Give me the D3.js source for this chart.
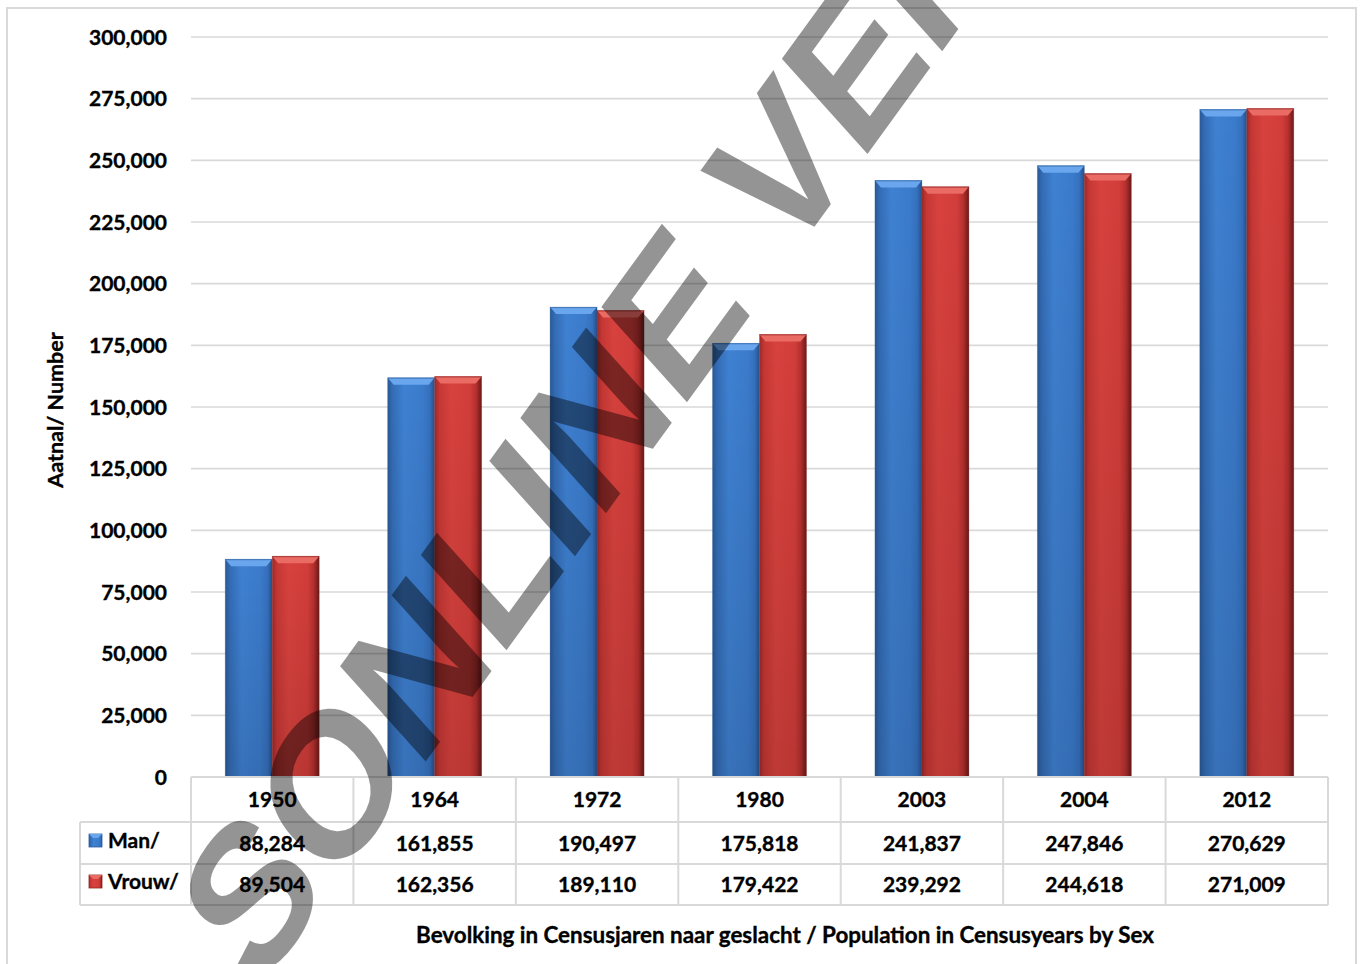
<!DOCTYPE html>
<html>
<head>
<meta charset="utf-8">
<script src="https://cdn.jsdelivr.net/npm/d3@7"></script>
<style>
  html, body { margin: 0; padding: 0; background: #ffffff; }
  svg { display: block; }
  text.lbl { font-family: Lato, "Open Sans", "Noto Sans", sans-serif; font-weight: 700; fill: #000; stroke: #000; stroke-width: 0.35px; }
</style>
</head>
<body>
<svg id="chart" width="1363" height="964"></svg>
<script>
// ---- data ----
const years = ["1950", "1964", "1972", "1980", "2003", "2004", "2012"];
const seriesNames = ["Man/", "Vrouw/"];
const manValues = [88284, 161855, 190497, 175818, 241837, 247846, 270629];
const vrouwValues = [89504, 162356, 189110, 179422, 239292, 244618, 271009];
const yTicks = [0, 25000, 50000, 75000, 100000, 125000, 150000, 175000, 200000, 225000, 250000, 275000, 300000];
const yAxisTitle = "Aatnal/ Number";
const xAxisTitle = "Bevolking in Censusjaren naar geslacht / Population in Censusyears by Sex";
const watermarkText = "SONLINE VERSION";

const series = [
  { name: seriesNames[0], key: "man", values: manValues },
  { name: seriesNames[1], key: "vrouw", values: vrouwValues }
];

const svg = d3.select("#chart");
const plot = { left: 191, right: 1328, top: 37, bottom: 777 };
const table = { left: 80, headerBottom: 822, row1Bottom: 864, row2Bottom: 905 };

const x = d3.scaleBand().domain(years).range([plot.left, plot.right]).padding(0);
const bw = x.bandwidth();
const xs = d3.scaleBand().domain(series.map(s => s.key)).range([bw / 2 - 47, bw / 2 + 47]).padding(0);
const y = d3.scaleLinear().domain([0, 300000]).range([plot.bottom, plot.top]);
const fmt = d3.format(",");

// ---- defs: gradients ----
const defs = svg.append("defs");
function hGrad(id, stops) {
  const g = defs.append("linearGradient").attr("id", id).attr("x1", "0%").attr("x2", "100%").attr("y1", "0%").attr("y2", "0%");
  stops.forEach(([o, c]) => g.append("stop").attr("offset", o).attr("stop-color", c));
}
hGrad("g-man", [["0%", "#2a5896"], ["10%", "#336cb5"], ["35%", "#3f81d2"], ["75%", "#3b7bcb"], ["90%", "#3470bd"], ["100%", "#264f88"]]);
hGrad("g-vrouw", [["0%", "#9c2927"], ["10%", "#c53734"], ["35%", "#d8423e"], ["75%", "#d23d3a"], ["88%", "#b5302e"], ["100%", "#6a1918"]]);
const vshade = defs.append("linearGradient").attr("id", "g-vshade").attr("x1", "0").attr("x2", "0").attr("y1", "0").attr("y2", "1");
vshade.append("stop").attr("offset", "0%").attr("stop-color", "#000").attr("stop-opacity", 0);
vshade.append("stop").attr("offset", "100%").attr("stop-color", "#000").attr("stop-opacity", 0.12);
const topCol = { man: "#6aa6ee", vrouw: "#ea6a64" };
const topSide = { man: "#2f629f", vrouw: "#8e2624" };

// ---- outer border ----
svg.append("rect").attr("x", 7).attr("y", 8).attr("width", 1349).attr("height", 980)
  .attr("fill", "none").attr("stroke", "#d9d9d9").attr("stroke-width", 2);

// ---- gridlines ----
svg.append("g").selectAll("line").data(yTicks.filter(t => t > 0)).join("line")
  .attr("x1", plot.left).attr("x2", plot.right)
  .attr("y1", d => y(d)).attr("y2", d => y(d))
  .attr("stroke", "#d9d9d9").attr("stroke-width", 1.6);

// ---- y tick labels ----
svg.append("g").selectAll("text").data(yTicks).join("text").attr("class", "lbl")
  .attr("x", 167).attr("y", d => y(d) + 7.5)
  .attr("text-anchor", "end").style("font-size", "21px")
  .text(d => fmt(d));

// ---- y axis title ----
svg.append("text").attr("class", "lbl")
  .attr("transform", "translate(63,410) rotate(-90)")
  .attr("text-anchor", "middle").style("font-size", "21.5px")
  .text(yAxisTitle);

// ---- bars ----
const groups = svg.append("g").selectAll("g").data(years).join("g")
  .attr("transform", d => `translate(${x(d)},0)`);

series.forEach(s => {
  groups.each(function (yr, i) {
    const g = d3.select(this);
    const v = s.values[i];
    const x0 = xs(s.key), w = xs.bandwidth();
    const y0 = y(v), h = y(0) - y(v);
    g.append("rect").attr("x", x0).attr("y", y0).attr("width", w).attr("height", h)
      .attr("fill", `url(#g-${s.key})`);
    g.append("rect").attr("x", x0).attr("y", y0).attr("width", w).attr("height", h)
      .attr("fill", "url(#g-vshade)");
    const b = 6;
    g.append("polygon")
      .attr("points", [[x0, y0], [x0 + w, y0], [x0 + w - b, y0 + b + 1], [x0 + b, y0 + b + 1]].map(p => p.join(",")).join(" "))
      .attr("fill", topCol[s.key]);
    g.append("line").attr("x1", x0).attr("x2", x0 + w).attr("y1", y0 + 0.5).attr("y2", y0 + 0.5)
      .attr("stroke", topSide[s.key]).attr("stroke-width", 1).attr("stroke-opacity", 0.6);
    g.append("rect").attr("x", x0).attr("y", y0).attr("width", w).attr("height", h)
      .attr("fill", "none").attr("stroke", topSide[s.key]).attr("stroke-opacity", 0.35).attr("stroke-width", 0.8);
  });
});

// ---- data table ----
const tg = svg.append("g");
const lineCol = "#d9d9d9";
const hl = [[plot.left, plot.bottom], [table.left, table.headerBottom], [table.left, table.row1Bottom], [table.left, table.row2Bottom]];
hl.forEach(([x1, yy]) => tg.append("line").attr("x1", x1).attr("x2", plot.right).attr("y1", yy).attr("y2", yy)
  .attr("stroke", lineCol).attr("stroke-width", 2));
const edges = years.map(d => x(d)).concat([plot.right]);
edges.forEach(ex => tg.append("line").attr("x1", ex).attr("x2", ex).attr("y1", plot.bottom).attr("y2", table.row2Bottom)
  .attr("stroke", lineCol).attr("stroke-width", 2));
tg.append("line").attr("x1", table.left).attr("x2", table.left).attr("y1", table.headerBottom).attr("y2", table.row2Bottom)
  .attr("stroke", lineCol).attr("stroke-width", 2);

tg.selectAll("text.hdr").data(years).join("text").attr("class", "hdr lbl")
  .attr("x", d => x(d) + bw / 2).attr("y", 807)
  .attr("text-anchor", "middle").style("font-size", "21px").text(d => d);

const rowBase = [851, 892];
series.forEach((s, si) => {
  tg.selectAll(`text.v${si}`).data(s.values).join("text").attr("class", `v${si} lbl`)
    .attr("x", (d, i) => x(years[i]) + bw / 2).attr("y", rowBase[si])
    .attr("text-anchor", "middle").style("font-size", "21px").text(d => fmt(d));
  const ky = rowBase[si] - 17;
  tg.append("rect").attr("x", 89).attr("y", ky).attr("width", 13).attr("height", 13)
    .attr("fill", `url(#g-${s.key})`).attr("stroke", topSide[s.key]).attr("stroke-width", 0.8);
  tg.append("polygon")
    .attr("points", [[89, ky], [102, ky], [98, ky + 4], [93, ky + 4]].map(p => p.join(",")).join(" "))
    .attr("fill", topCol[s.key]);
  tg.append("text").attr("class", "lbl").attr("x", 108).attr("y", rowBase[si] - 3)
    .style("font-size", "21px").text(s.name);
});

// ---- x axis title ----
svg.append("text").attr("class", "lbl").attr("x", 785).attr("y", 943).attr("text-anchor", "middle")
  .style("font-size", "22.4px").text(xAxisTitle);

// ---- watermark (rotated, slightly stretched vertically) ----
const wm = svg.append("text")
  .style("font-family", "'Liberation Sans', Arial, sans-serif")
  .style("font-weight", 700)
  .style("font-size", "100px")
  .style("fill", "#000").style("fill-opacity", 0.42)
  .text(watermarkText);
(function placeWatermark() {
  const k = 1.236;
  const node = wm.node();
  const eO = node.getExtentOfChar(1), eV = node.getExtentOfChar(8);
  const cy = -35.8;
  const pO = [eO.x + eO.width / 2, cy], pV = [eV.x + eV.width / 2, cy];
  const sO = [330, 782], sV = [778, 166];
  const Dx = sV[0] - sO[0], Dy = (sV[1] - sO[1]) / k;
  const len = Math.hypot(Dx, Dy);
  const f = 100 * len / (pV[0] - pO[0]);
  const a = Math.atan2(-Dy, Dx);
  const px = pO[0] * f / 100, py = pO[1] * f / 100;
  const mx = px * Math.cos(a) + py * Math.sin(a);
  const my = (-px * Math.sin(a) + py * Math.cos(a)) * k;
  const tx = sO[0] - mx, ty = sO[1] - my;
  wm.style("font-size", f + "px")
    .attr("transform", `translate(${tx},${ty}) scale(1,${k}) rotate(${-a * 180 / Math.PI})`);
})();
</script>
</body>
</html>
